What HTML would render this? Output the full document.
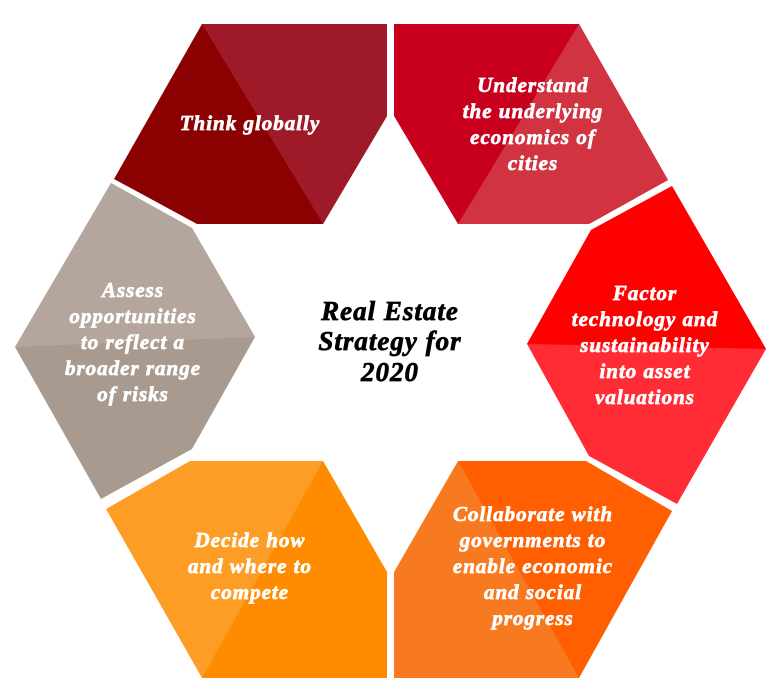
<!DOCTYPE html>
<html><head><meta charset="utf-8"><style>
html,body{margin:0;padding:0;background:#fff;}
svg{display:block}
text{font-family:"Liberation Serif",serif;font-weight:bold;font-style:italic;fill:#fff;stroke:#fff;stroke-width:0.7px;font-size:21px;text-anchor:middle;letter-spacing:1px}
.c{fill:#000;stroke:#000;font-size:27px;letter-spacing:1px}
</style></head><body>
<svg width="770" height="682" viewBox="0 0 770 682" xmlns="http://www.w3.org/2000/svg">
<polygon points="202,24 387,24 387,116 323,224 197,224 114,179" fill="#8b0000"/>
<polygon points="202,24 387,24 387,116 323,224" fill="#9e1a28"/>
<polygon points="394,24 579,24 668,180 589,224 458,224 394,116" fill="#c8001e"/>
<polygon points="579,24 668,180 589,224 458,224" fill="#d13340"/>
<polygon points="672,186 766,349 677,504 589,456 527,344 591,230" fill="#ff2b35"/>
<polygon points="672,186 766,349 527,344 591,230" fill="#ff0000"/>
<polygon points="458,461 586,461 672,511 579,678 394,678 394,572" fill="#f87a20"/>
<polygon points="458,461 586,461 672,511 579,678" fill="#ff5f00"/>
<polygon points="106,509 190,461 323,461 387,572 387,678 202,678" fill="#fd9d26"/>
<polygon points="323,461 387,572 387,678 202,678" fill="#ff8c00"/>
<polygon points="111,183 192,228 255,337 192,449 101,499 15,347" fill="#a99a8f"/>
<polygon points="111,183 192,228 255,337 15,347" fill="#b4a69c"/>

<text x="250" y="130">Think globally</text>
<text x="533" y="92">Understand</text>
<text x="533" y="118">the underlying</text>
<text x="533" y="144">economics of</text>
<text x="533" y="170">cities</text>
<text x="645" y="300">Factor</text>
<text x="645" y="326">technology and</text>
<text x="645" y="352">sustainability</text>
<text x="645" y="378">into asset</text>
<text x="645" y="404">valuations</text>
<text x="133" y="297">Assess</text>
<text x="133" y="323">opportunities</text>
<text x="133" y="349">to reflect a</text>
<text x="133" y="375">broader range</text>
<text x="133" y="401">of risks</text>
<text x="250" y="547">Decide how</text>
<text x="250" y="573">and where to</text>
<text x="250" y="599">compete</text>
<text x="533" y="521">Collaborate with</text>
<text x="533" y="547">governments to</text>
<text x="533" y="573">enable economic</text>
<text x="533" y="599">and social</text>
<text x="533" y="625">progress</text>
<text class="c" x="390" y="320">Real Estate</text>
<text class="c" x="390" y="350">Strategy for</text>
<text class="c" x="390" y="381">2020</text>
</svg>
</body></html>
